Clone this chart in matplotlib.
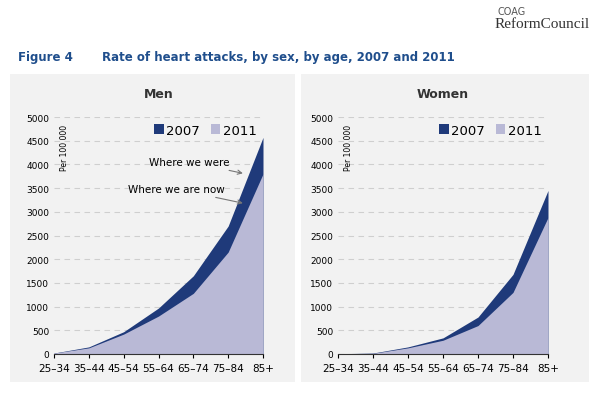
import matplotlib
matplotlib.use("Agg")
import matplotlib.pyplot as plt
from matplotlib.patches import Rectangle

ages = ["25–34", "35–44", "45–54", "55–64", "65–74", "75–84", "85+"]
men_2007 = [20, 150, 470, 970, 1650, 2700, 4570]
men_2011 = [20, 130, 420, 800, 1280, 2150, 3800]
women_2007 = [5, 20, 150, 340, 780, 1680, 3450]
women_2011 = [5, 15, 130, 290, 600, 1300, 2880]

DARK = "#1f3a7a"
LIGHT = "#b9b9d6"
PANEL = "#f2f2f2"
W, H = 599, 410

fig = plt.figure(figsize=(W / 100, H / 100), dpi=100)
fig.patch.set_facecolor("white")

# header
fig.text(497 / W, 1 - 12 / H, "COAG", fontsize=7, color="#555555", ha="left", va="center")
fig.text(590 / W, 1 - 24 / H, "ReformCouncil", fontsize=11, color="#333333",
         ha="right", va="center", family="Liberation Serif")
fig.text(18 / W, 1 - 57 / H, "Figure 4", fontsize=8.5, color="#1f4e8c",
         fontweight="bold", va="center")
fig.text(102 / W, 1 - 57 / H, "Rate of heart attacks, by sex, by age, 2007 and 2011",
         fontsize=8.5, color="#1f4e8c", fontweight="bold", va="center")

# panel backgrounds
for x0, x1 in [(10, 295), (301, 589)]:
    fig.patches.append(Rectangle((x0 / W, 1 - 383 / H), (x1 - x0) / W, 308 / H,
                                 transform=fig.transFigure, facecolor=PANEL,
                                 edgecolor="none", zorder=-1))

panels = [("Men", men_2007, men_2011, 54, 263), ("Women", women_2007, women_2011, 338, 548)]
x = list(range(len(ages)))
for title, v07, v11, xl, xr in panels:
    ax = fig.add_axes([xl / W, 1 - 355 / H, (xr - xl) / W, (355 - 118) / H])
    ax.set_facecolor(PANEL)
    ax.fill_between(x, 0, v07, color=DARK, lw=0, label="2007")
    ax.fill_between(x, 0, v11, color=LIGHT, lw=0, label="2011")
    ax.set_xlim(0, 6)
    ax.set_ylim(0, 5000)
    ax.set_yticks(range(0, 5001, 500))
    ax.set_xticks(x)
    ax.set_xticklabels(ages, fontsize=7.5)
    ax.tick_params(axis="y", labelsize=6.5, length=0)
    ax.tick_params(axis="x", length=3)
    ax.yaxis.grid(True, color="#cfcfcf", ls=(0, (5, 4)), lw=0.8)
    ax.set_axisbelow(True)
    for s in ["top", "right", "left"]:
        ax.spines[s].set_visible(False)
    ax.spines["bottom"].set_color("#333333")
    ax.text(0.03, 0.97, "Per 100 000", rotation=90, fontsize=5.5,
            transform=ax.transAxes, ha="left", va="top")
    ax.legend(loc="upper right", ncol=2, frameon=False, fontsize=9.5,
              handlelength=0.7, handleheight=0.7, columnspacing=0.8,
              handletextpad=0.2, borderaxespad=0.1)
    fig.text((xl + xr) / 2 / W, 1 - 94 / H, title, fontsize=9, fontweight="bold",
             color="#333333", ha="center", va="center")
    if title == "Men":
        ax.annotate("Where we were", xy=(5.5, 3800), xytext=(5.05, 4050),
                    fontsize=7.5, ha="right", va="center",
                    arrowprops=dict(arrowstyle="->", color="#777777", lw=0.8))
        ax.annotate("Where we are now", xy=(5.5, 3170), xytext=(4.9, 3480),
                    fontsize=7.5, ha="right", va="center",
                    arrowprops=dict(arrowstyle="->", color="#777777", lw=0.8))

fig.savefig("out.png", dpi=100)
